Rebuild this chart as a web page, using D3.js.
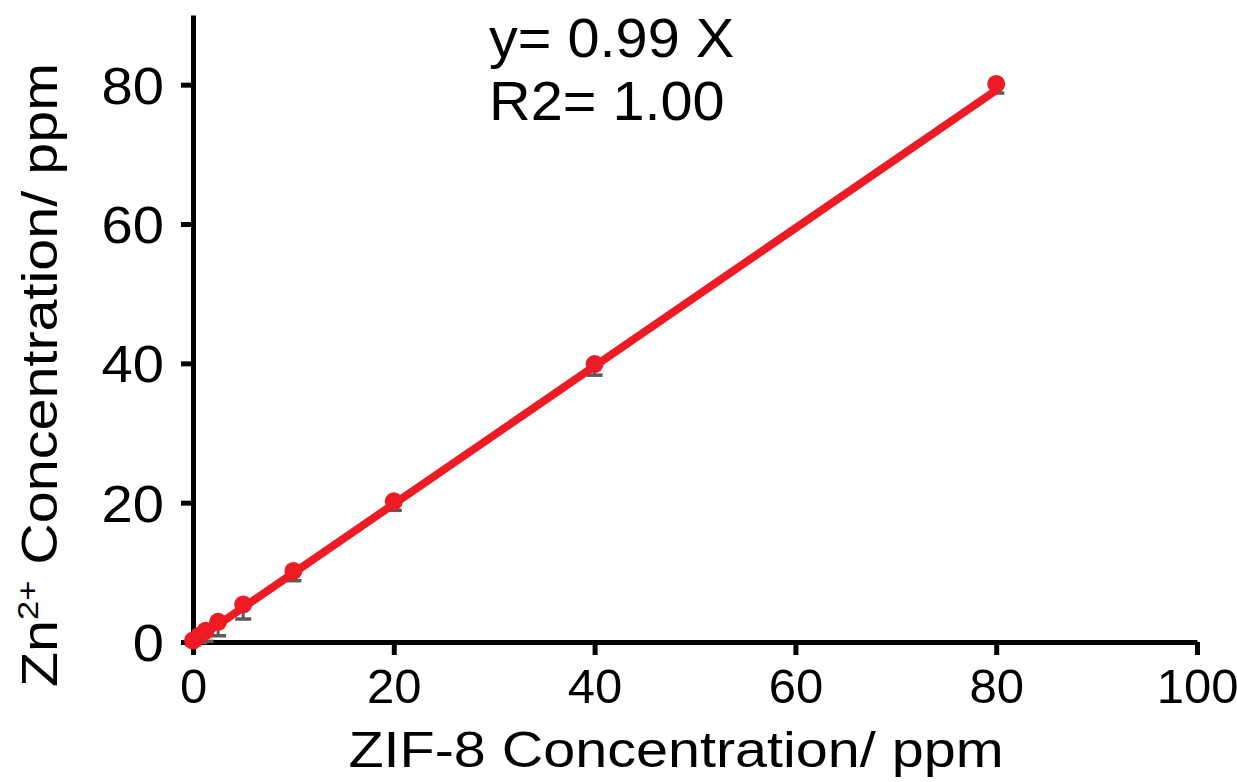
<!DOCTYPE html>
<html>
<head>
<meta charset="utf-8">
<script src="https://cdn.jsdelivr.net/npm/d3@7"></script>
<style>
  body { margin: 0; background: #fff; }
  text { font-family: "Liberation Sans", Arial, sans-serif; fill: #000; }
</style>
</head>
<body>
<svg id="chart" width="1237" height="782"></svg>
<script>
// measured points (ZIF-8 vs Zn2+), lower error only
var zifConc = [0, 0.625, 1.25, 2.5, 5, 10, 20, 40, 80];
var znConc = [0.2, 0.9, 1.6, 2.9, 5.4, 10.2, 20.2, 39.9, 80.1];
var znErr = [0.6, 1.0, 1.5, 2.0, 2.1, 1.4, 1.3, 1.6, 1.3];

// linear fit line end points
var fitX = [0, 80];
var fitY = [0, 79.2];

var xTicks = [0, 20, 40, 60, 80, 100];
var yTicks = [0, 20, 40, 60, 80];
var fitLabels = ['y= 0.99 X', 'R2= 1.00'];

var svg = d3.select('#chart');
var stretch = 1.1; // text in the figure is a bit wide
var titleStretch = 1.15;

var x = d3.scaleLinear().domain([0, 100]).range([193, 1197]);
var y = d3.scaleLinear().domain([0, 90]).range([642, 15]);

var xAxis = svg.append('g')
    .attr('transform', 'translate(0,' + y(0) + ')')
    .call(d3.axisBottom(x).tickValues(xTicks).tickSize(13).tickSizeOuter(0).tickPadding(13));

var yAxis = svg.append('g')
    .attr('transform', 'translate(' + x(0) + ',0)')
    .call(d3.axisLeft(y).tickValues(yTicks).tickSize(12).tickSizeOuter(0).tickPadding(17));

[xAxis, yAxis].forEach(function(g) {
    g.select('.domain').attr('stroke', '#000').attr('stroke-width', 5);
    g.selectAll('.tick line').attr('stroke', '#000').attr('stroke-width', 5);
    g.selectAll('.tick text')
        .style('font-family', '"Liberation Sans", Arial, sans-serif')
        .attr('fill', '#000');
});
xAxis.selectAll('.tick text').style('font-size', '49px');
yAxis.selectAll('.tick text')
    .style('font-size', '51px')
    .attr('transform', 'scale(' + stretch + ',1)')
    .attr('x', -29 / stretch)
    .attr('dy', '0.36em');

// lower error bars
var pts = zifConc.map(function(d, i) {
    return { x: d, y: znConc[i], e: znErr[i] };
});

var err = svg.append('g').selectAll('g')
    .data(pts)
    .enter()
    .append('g');

err.append('line')
    .attr('x1', function(d) { return x(d.x); })
    .attr('x2', function(d) { return x(d.x); })
    .attr('y1', function(d) { return y(d.y); })
    .attr('y2', function(d) { return y(d.y - d.e); })
    .attr('stroke', '#5a5a5a')
    .attr('stroke-width', 3);

err.append('line')
    .attr('x1', function(d) { return x(d.x) - 8; })
    .attr('x2', function(d) { return x(d.x) + 8; })
    .attr('y1', function(d) { return y(d.y - d.e); })
    .attr('y2', function(d) { return y(d.y - d.e); })
    .attr('stroke', '#5a5a5a')
    .attr('stroke-width', 3.5);

// fit line
svg.append('path')
    .datum(fitX.map(function(d, i) { return [d, fitY[i]]; }))
    .attr('d', d3.line()
        .x(function(d) { return x(d[0]); })
        .y(function(d) { return y(d[1]); }))
    .attr('fill', 'none')
    .attr('stroke', '#ed1c24')
    .attr('stroke-width', 8)
    .attr('stroke-linecap', 'round');

svg.append('g').selectAll('circle')
    .data(pts)
    .enter()
    .append('circle')
    .attr('cx', function(d) { return x(d.x); })
    .attr('cy', function(d) { return y(d.y); })
    .attr('r', 9)
    .attr('fill', '#ed1c24');

// fit annotation
svg.append('g').selectAll('text')
    .data(fitLabels)
    .enter()
    .append('text')
    .attr('x', 489 / 1.03)
    .attr('y', function(d, i) { return 57 + i * 63; })
    .attr('transform', 'scale(1.03,1)')
    .style('font-size', '56px')
    .text(function(d) { return d; });

// axis titles
svg.append('text')
    .attr('x', 676 / titleStretch)
    .attr('y', 767)
    .attr('transform', 'scale(' + titleStretch + ',1)')
    .attr('text-anchor', 'middle')
    .style('font-size', '50px')
    .text('ZIF-8 Concentration/ ppm');

var yt = svg.append('text')
    .attr('transform', 'translate(57,375) rotate(-90) scale(' + titleStretch + ',1)')
    .attr('text-anchor', 'middle')
    .style('font-size', '50px');
yt.append('tspan').text('Zn');
yt.append('tspan').attr('dy', -19).style('font-size', '30px').text('2+');
yt.append('tspan').attr('dy', 19).text(' Concentration/ ppm');
</script>
</body>
</html>
